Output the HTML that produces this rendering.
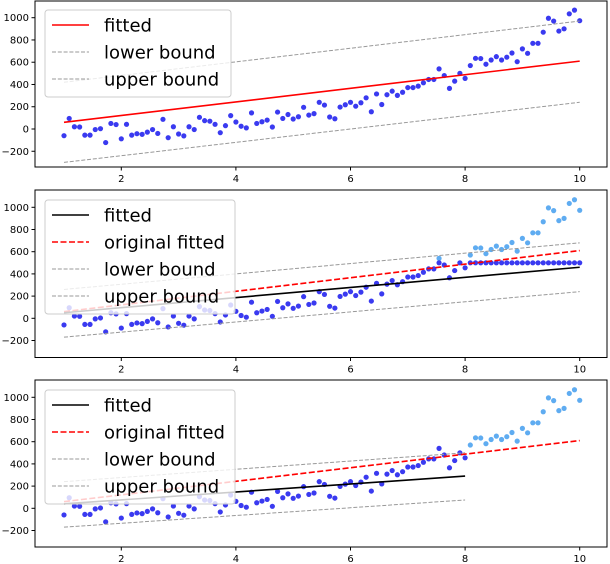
<!DOCTYPE html>
<html><head><meta charset="utf-8"><style>
html,body{margin:0;padding:0;background:#fff;}
svg{display:block;font-family:"DejaVu Sans","Liberation Sans",sans-serif;}
</style></head><body>
<svg id="chart" width="610" height="564" viewBox="0 0 610 564" xmlns="http://www.w3.org/2000/svg"></svg>
<script>
const yValues=[-60,95,20,18,-55,-55,-5,3,-122,50,40,-88,42,-55,-42,-48,-28,-5,-40,87,-78,20,-45,-62,20,-5,105,75,70,42,-33,30,120,63,25,10,145,50,65,80,18,152,95,130,90,110,195,125,138,240,215,108,92,197,218,240,205,236,280,155,315,220,308,340,302,330,372,372,385,415,445,445,540,480,365,430,500,455,570,635,633,582,620,650,620,645,683,605,720,680,770,770,870,995,970,880,900,1035,1068,973];
const xTicks=[2,4,6,8,10];
const yTicks=[-200,0,200,400,600,800,1000];
const clipLevel=500;
const truncX=8;
// lines: [x0,y0,x1,y1]
const p1Fit=[1,60,10,610], p1Low=[1,-300,10,240], p1Up=[1,420,10,970];
const p2Fit=[1,50,10,460], p2Orig=[1,60,10,610], p2Low=[1,-170,10,240], p2Up=[1,260,10,680];
const p3Fit=[1,40,8,290], p3Orig=[1,60,10,610], p3Low=[1,-170,8,75], p3Up=[1,240,8,500];

const NS="http://www.w3.org/2000/svg";
const svg=document.getElementById('chart');
function mk(tag,attrs,parent){const e=document.createElementNS(NS,tag);for(const k in attrs)e.setAttribute(k,attrs[k]);(parent||svg).appendChild(e);return e;}
const xs=yValues.map((v,i)=>1+9*i/99);
const panels=[
 {top:1,bottom:167,zero:129,k:0.1113,name:'top'},
 {top:190,bottom:357.5,zero:318.3,k:0.111,name:'clipped'},
 {top:380,bottom:547,zero:508.3,k:0.111,name:'truncated'}];
const L=35,R=607;
function X(x){return 64+(x-1)*57.3;}
panels.forEach((p,pi)=>{
 const g=mk('g',{});
 
 
 const Y=v=>p.zero-v*p.k;
 const line=(a,attrs,name)=>{const l=mk('line',Object.assign({x1:X(a[0]),y1:Y(a[1]),x2:X(a[2]),y2:Y(a[3])},attrs),g);
   
   };
 // points
 xs.forEach((x,i)=>{
  const v=yValues[i];
  let dark=true,light=false,yv=v;
  if(pi===1){if(v>clipLevel){light=true;yv=clipLevel;}}
  if(pi===2){if(x>truncX+1e-6){dark=false;light=true;}}
  if(light){const c=mk('circle',{cx:X(x),cy:Y(v),r:2.6,fill:'#4ea3f0',opacity:0.9},g);
   
   }
  if(dark){const c=mk('circle',{cx:X(x),cy:Y(yv),r:2.6,fill:'#3a3af0'},g);
   
   }
 });
 const dash={stroke:'#999','stroke-width':1,'stroke-dasharray':'4 1.8'};
 if(pi===0){
  line(p1Low,dash,'lower-bound-line');line(p1Up,dash,'upper-bound-line');
  line(p1Fit,{stroke:'#f00','stroke-width':1.6},'fitted-line');
 }else{
  const f=pi===1?[p2Fit,p2Orig,p2Low,p2Up]:[p3Fit,p3Orig,p3Low,p3Up];
  line(f[2],dash,'lower-bound-line');line(f[3],dash,'upper-bound-line');
  line(f[1],{stroke:'#f00','stroke-width':1.6,'stroke-dasharray':'6 2.5'},'original-fitted-line');
  line(f[0],{stroke:'#000','stroke-width':1.6},'fitted-line');
 }
 // frame
 const fr=mk('rect',{x:L,y:p.top,width:R-L,height:p.bottom-p.top,fill:'none',stroke:'#000','stroke-width':1},g);
 
 
 xTicks.forEach(t=>{
  mk('line',{x1:X(t),x2:X(t),y1:p.bottom,y2:p.bottom+3.5,stroke:'#000'},g);
  const tx=mk('text',{x:X(t),y:p.bottom+15,'font-size':10,'text-anchor':'middle'},g);tx.textContent=t;
  
  
 });
 yTicks.forEach(t=>{
  mk('line',{x1:L-3.5,x2:L,y1:Y(t),y2:Y(t),stroke:'#000'},g);
  const tx=mk('text',{x:L-6,y:Y(t)+3.5,'font-size':10,'text-anchor':'end'},g);tx.textContent=t<0?'\u2212'+(-t):t;
  
  
 });
 // legend
 const lg=mk('g',{},g);
 
 
 const ly0=pi===0?10:p.top+10;
 const entries=pi===0?[['fitted','#f00',null,1.6],['lower bound','#999','4 1.8',1],['upper bound','#999','4 1.8',1]]
  :[['fitted','#000',null,1.6],['original fitted','#f00','6 2.5',1.6],['lower bound','#999','4 1.8',1],['upper bound','#999','4 1.8',1]];
 const h=entries.length*27+6;
 mk('rect',{x:45,y:ly0,width:pi===0?186:190,height:h,rx:3,fill:'#fff','fill-opacity':0.8,stroke:'#ccc','stroke-width':1},lg);
 entries.forEach((e,j)=>{
  const yy=ly0+15+j*27;
  const a={x1:52,x2:89,y1:yy,y2:yy,stroke:e[1],'stroke-width':e[3]};if(e[2])a['stroke-dasharray']=e[2];
  mk('line',a,lg);
  const t=mk('text',{x:104,y:yy+6.5,'font-size':18},lg);t.textContent=e[0];
  
  
 });
});
</script>
</body></html>
